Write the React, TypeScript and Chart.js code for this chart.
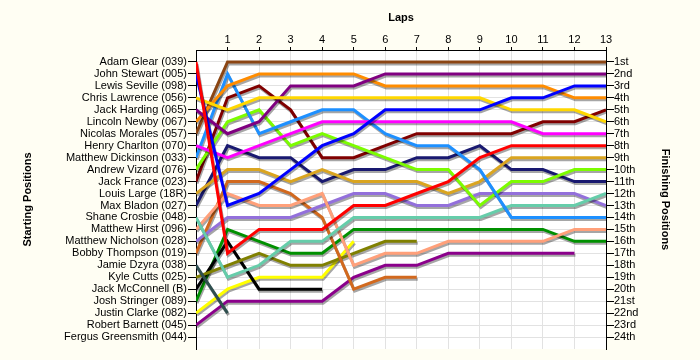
import React, { useEffect, useRef } from 'react';
import { Chart, registerables } from 'chart.js';

Chart.register(...registerables);

const FONT = "'Liberation Sans', Arial, sans-serif";

// Starting grid (tick labels, left axis)
const drivers = [
  'Adam Glear (039)', 'John Stewart (005)', 'Lewis Seville (098)', 'Chris Lawrence (056)',
  'Jack Harding (065)', 'Lincoln Newby (067)', 'Nicolas Morales (057)', 'Henry Charlton (070)',
  'Matthew Dickinson (033)', 'Andrew Vizard (076)', 'Jack France (023)', 'Louis Large (18R)',
  'Max Bladon (027)', 'Shane Crosbie (048)', 'Matthew Hirst (096)', 'Matthew Nicholson (028)',
  'Bobby Thompson (019)', 'Jamie Dzyra (038)', 'Kyle Cutts (025)', 'Jack McConnell (B)',
  'Josh Stringer (089)', 'Justin Clarke (082)', 'Robert Barnett (045)', 'Fergus Greensmith (044)',
];

// Finishing position labels (right axis)
const finishLabels = [
  '1st', '2nd', '3rd', '4th', '5th', '6th', '7th', '8th', '9th', '10th', '11th', '12th',
  '13th', '14th', '15th', '16th', '17th', '18th', '19th', '20th', '21st', '22nd', '23rd', '24th',
];

// Lap tick labels (top axis)
const laps = [1, 2, 3, 4, 5, 6, 7, 8, 9, 10, 11, 12, 13];

// Position per lap (index 0 = grid)
const adamGlear = [1, 17, 15, 15, 15, 13, 13, 12, 11, 9, 8, 8, 8, 8];
const johnStewart = [2, 13, 12, 10, 8, 7, 5, 5, 5, 5, 4, 4, 3, 3];
const lewisSeville: number[] = [];
const chrisLawrence = [4, 5, 4, 4, 4, 4, 4, 4, 4, 4, 5, 5, 5, 6];
const jackHarding = [5, 7, 6, 3, 3, 3, 2, 2, 2, 2, 2, 2, 2, 2];
const lincolnNewby = [6, 3, 2, 2, 2, 2, 3, 3, 3, 3, 3, 3, 4, 4];
const nicolasMorales = [7, 1, 1, 1, 1, 1, 1, 1, 1, 1, 1, 1, 1, 1];
const henryCharlton = [8, 9, 8, 7, 6, 6, 6, 6, 6, 6, 6, 7, 7, 7];
const matthewDickinson = [9, 2, 7, 6, 5, 5, 7, 8, 8, 10, 14, 14, 14, 14];
const andrewVizard = [10, 6, 5, 8, 7, 8, 9, 10, 10, 13, 11, 11, 10, 10];
const jackFrance = [11, 4, 3, 5, 9, 9, 8, 7, 7, 7, 7, 6, 6, 5];
const louisLarge = [12, 10, 10, 11, 10, 11, 11, 11, 12, 11, 9, 9, 9, 9];
const maxBladon = [13, 8, 9, 9, 11, 10, 10, 9, 9, 8, 10, 10, 11, 11];
const shaneCrosbie = [14, 19, 18, 16, 16, 14, 14, 14, 14, 14, 13, 13, 13, 12];
const matthewHirst = [15, 12, 13, 13, 12, 18, 17, 17, 16, 16, 16, 16, 15, 15];
const matthewNicholson = [16, 14, 14, 14, 13, 12, 12, 13, 13, 12, 12, 12, 12, 13];
const bobbyThompson = [17, 11, 11, 12, 14, 20, 19, 19];
const jamieDzyra = [18, 22];
const kyleCutts = [19, 18, 17, 18, 18, 17, 16, 16];
const jackMcConnell = [20, 16, 20, 20, 20];
const joshStringer = [21, 15, 16, 17, 17, 15, 15, 15, 15, 15, 15, 15, 16, 16];
const justinClarke = [22, 20, 19, 19, 19, 16];
const robertBarnett = [23, 21, 21, 21, 21, 19, 18, 18, 17, 17, 17, 17, 17];
const fergusGreensmith: number[] = [];

const series = [
  adamGlear, johnStewart, lewisSeville, chrisLawrence, jackHarding, lincolnNewby,
  nicolasMorales, henryCharlton, matthewDickinson, andrewVizard, jackFrance, louisLarge,
  maxBladon, shaneCrosbie, matthewHirst, matthewNicholson, bobbyThompson, jamieDzyra,
  kyleCutts, jackMcConnell, joshStringer, justinClarke, robertBarnett, fergusGreensmith,
];

const colors = [
  '#FF0000', '#0000FF', '#808080', '#FFD700', '#800080', '#FF8C00',
  '#8B4513', '#FF00FF', '#1E90FF', '#7CFC00', '#800000', '#DAA520',
  '#191970', '#66CDAA', '#FFA07A', '#9370DB', '#D2691E', '#2F4F4F',
  '#808000', '#000000', '#009000', '#FFFF00', '#8B008B', '#A0A0A0',
];

const bgPlugin = {
  id: 'bg',
  beforeDraw(chart: any) {
    const { ctx, chartArea } = chart;
    ctx.save();
    ctx.fillStyle = '#FFFEF3';
    ctx.fillRect(0, 0, chart.width, chart.height);
    ctx.fillStyle = '#FFFFFF';
    ctx.fillRect(chartArea.left, chartArea.top, chartArea.right - chartArea.left, chartArea.bottom - chartArea.top);
    ctx.restore();
  },
};

const shadowPlugin = {
  id: 'lineShadow',
  beforeDatasetsDraw(chart: any) {
    const ctx = chart.ctx;
    ctx.save();
    ctx.shadowColor = 'rgba(0,0,0,0.35)';
    ctx.shadowOffsetX = 1;
    ctx.shadowOffsetY = 2;
    ctx.shadowBlur = 0;
  },
  afterDatasetsDraw(chart: any) {
    chart.ctx.restore();
  },
};

export default function App() {
  const ref = useRef<HTMLCanvasElement | null>(null);

  useEffect(() => {
    if (!ref.current) return;
    const posTicks = (s: any) => {
      s.ticks = drivers.map((_, i) => ({ value: i + 1 }));
    };
    const chart = new Chart(ref.current, {
      type: 'line',
      data: {
        datasets: series.map((arr, i) => ({
          label: drivers[i],
          data: arr.map((v, lap) => ({ x: lap, y: v })),
          borderColor: colors[i],
          backgroundColor: colors[i],
          borderWidth: 3,
          pointRadius: 0,
          tension: 0,
          fill: false,
          yAxisID: 'y',
          xAxisID: 'x',
        })),
      },
      options: {
        animation: false,
        responsive: false,
        devicePixelRatio: 1,
        layout: { padding: { left: 0, right: 0, top: 0, bottom: 11 } },
        plugins: { legend: { display: false }, tooltip: { enabled: false } },
        scales: {
          x: {
            type: 'linear',
            position: 'top',
            min: 0,
            max: 13,
            afterBuildTicks: (s: any) => {
              s.ticks = laps.map((v) => ({ value: v }));
            },
            ticks: {
              autoSkip: false,
              maxRotation: 0,
              padding: 0,
              color: '#000',
              font: { family: FONT, size: 11 },
              callback: (_v: any, i: number) => String(laps[i]),
            },
            grid: { color: '#E2E2E2', tickColor: '#000', tickLength: 3 },
            border: { color: '#000', width: 1 },
            title: {
              display: true,
              text: 'Laps',
              color: '#000',
              font: { family: FONT, size: 11, weight: 'bold' },
              padding: { top: 11, bottom: 0 },
            },
            afterFit: (s: any) => {
              s.height = 50;
            },
          },
          y: {
            type: 'linear',
            position: 'left',
            min: 0,
            max: 25,
            reverse: true,
            afterBuildTicks: posTicks,
            ticks: {
              autoSkip: false,
              padding: 1,
              color: '#000',
              font: { family: FONT, size: 11 },
              callback: (_v: any, i: number) => drivers[i],
            },
            grid: { color: '#E2E2E2', tickColor: '#000', tickLength: 8 },
            border: { color: '#000', width: 1 },
            title: {
              display: true,
              text: 'Starting Positions',
              color: '#000',
              font: { family: FONT, size: 11, weight: 'bold' },
              padding: { top: 21, bottom: 0 },
            },
            afterFit: (s: any) => {
              s.width = 196;
            },
          },
          y2: {
            type: 'linear',
            position: 'right',
            min: 0,
            max: 25,
            reverse: true,
            afterBuildTicks: posTicks,
            ticks: {
              autoSkip: false,
              padding: 0,
              color: '#000',
              font: { family: FONT, size: 11 },
              callback: (_v: any, i: number) => finishLabels[i],
            },
            grid: { drawOnChartArea: false, tickColor: '#000', tickLength: 8 },
            border: { color: '#000', width: 1 },
            title: {
              display: true,
              text: 'Finishing Positions',
              color: '#000',
              font: { family: FONT, size: 11, weight: 'bold' },
              padding: { top: 28, bottom: 0 },
            },
            afterFit: (s: any) => {
              s.width = 94;
            },
          },
        },
      },
      plugins: [bgPlugin, shadowPlugin],
    } as any);
    return () => chart.destroy();
  }, []);

  return (
    <div style={{ position: 'absolute', left: 0, top: 0, width: 700, height: 360 }}>
      <canvas ref={ref} width={700} height={360} style={{ display: 'block', width: 700, height: 360 }} />
    </div>
  );
}
